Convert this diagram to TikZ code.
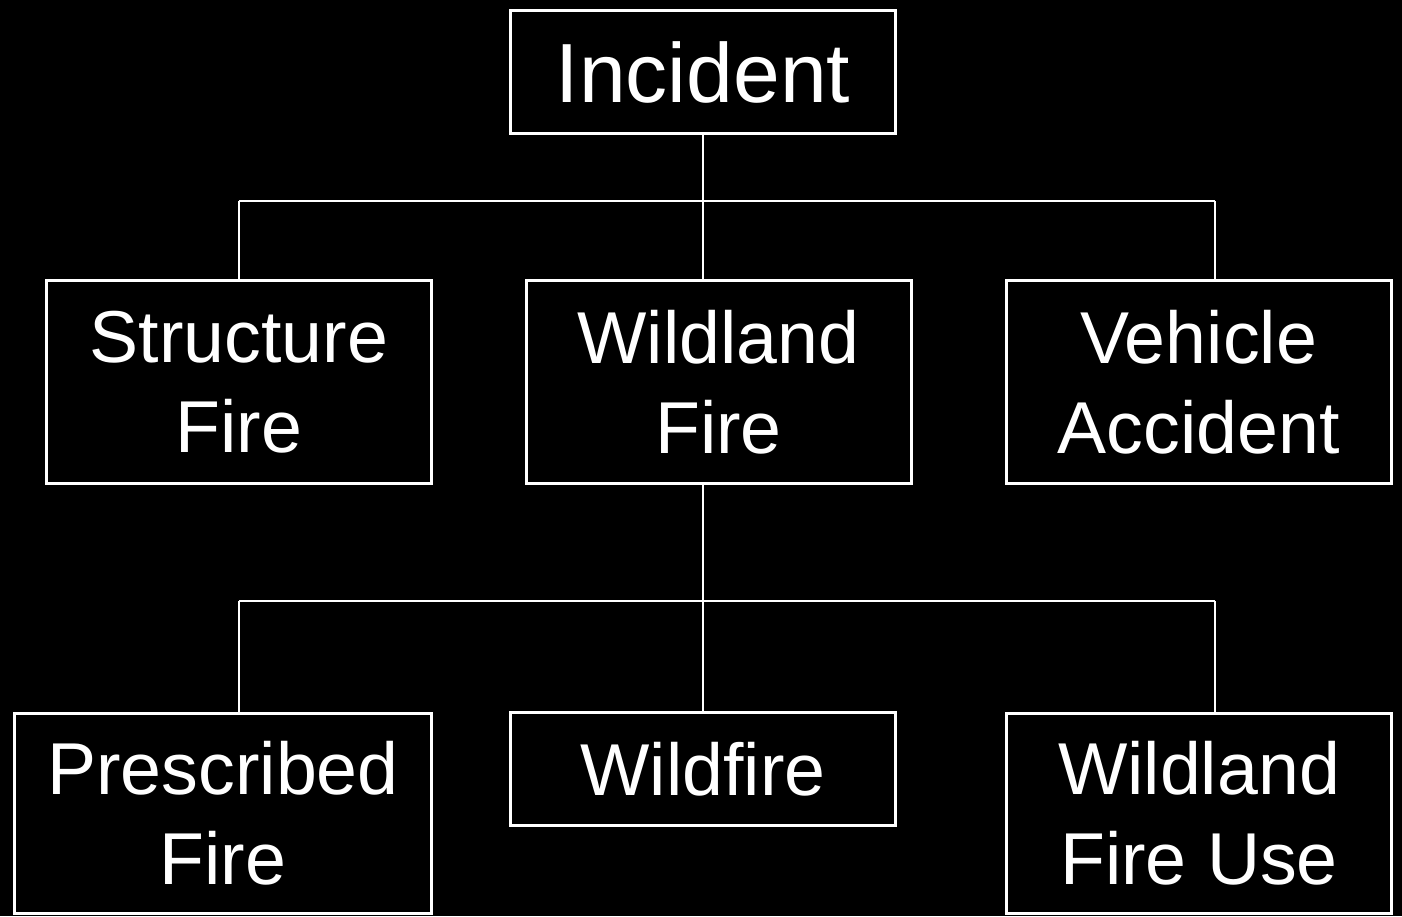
\documentclass[tikz,border=0pt]{standalone}
\usepackage{fontspec}
\setmainfont{Liberation Sans}
\begin{document}
\begin{tikzpicture}[x=1pt,y=-1pt,
  box/.style={draw=white,line width=3pt,fill=black,text=white,inner sep=0pt,
    align=center,font=\fontsize{73.5}{90}\selectfont},
  conn/.style={draw=white,line width=2pt}]
\fill[black] (0,0) rectangle (1402,916);
\useasboundingbox (0,0) rectangle (1402,916);
% level 0
\node[box,minimum width=385pt,minimum height=123pt,font=\fontsize{84}{100}\selectfont] (incident) at (703,72) {Incident};
% level 1
\node[box,minimum width=385pt,minimum height=203pt] (structure) at (239,382) {Structure\\Fire};
\node[box,minimum width=385pt,minimum height=203pt] (wildland) at (718.5,382) {Wildland\\Fire};
\node[box,minimum width=385pt,minimum height=203pt] (vehicle) at (1198.5,382) {Vehicle\\Accident};
% level 2
\node[box,minimum width=417pt,minimum height=200pt] (prescribed) at (223,813) {Prescribed\\Fire};
\node[box,minimum width=385pt,minimum height=113pt] (wildfire) at (703,769) {Wildfire};
\node[box,minimum width=385pt,minimum height=200pt] (wfu) at (1199,813) {Wildland\\Fire Use};
% bus coordinates
\coordinate (b1l) at (239,201);
\coordinate (b1m) at (703,201);
\coordinate (b1r) at (1215,201);
\coordinate (b2l) at (239,601);
\coordinate (b2m) at (703,601);
\coordinate (b2r) at (1215,601);
% connectors level 0 -> 1
\draw[conn] (incident.south) -- (b1m);
\draw[conn] (b1l) -- (b1r);
\draw[conn] (b1l) -- (b1l |- structure.north);
\draw[conn] (b1m) -- (b1m |- wildland.north);
\draw[conn] (b1r) -- (b1r |- vehicle.north);
% connectors level 1 -> 2
\draw[conn] (b2m |- wildland.south) -- (b2m);
\draw[conn] (b2l) -- (b2r);
\draw[conn] (b2l) -- (b2l |- prescribed.north);
\draw[conn] (b2m) -- (b2m |- wildfire.north);
\draw[conn] (b2r) -- (b2r |- wfu.north);
\end{tikzpicture}
\end{document}
